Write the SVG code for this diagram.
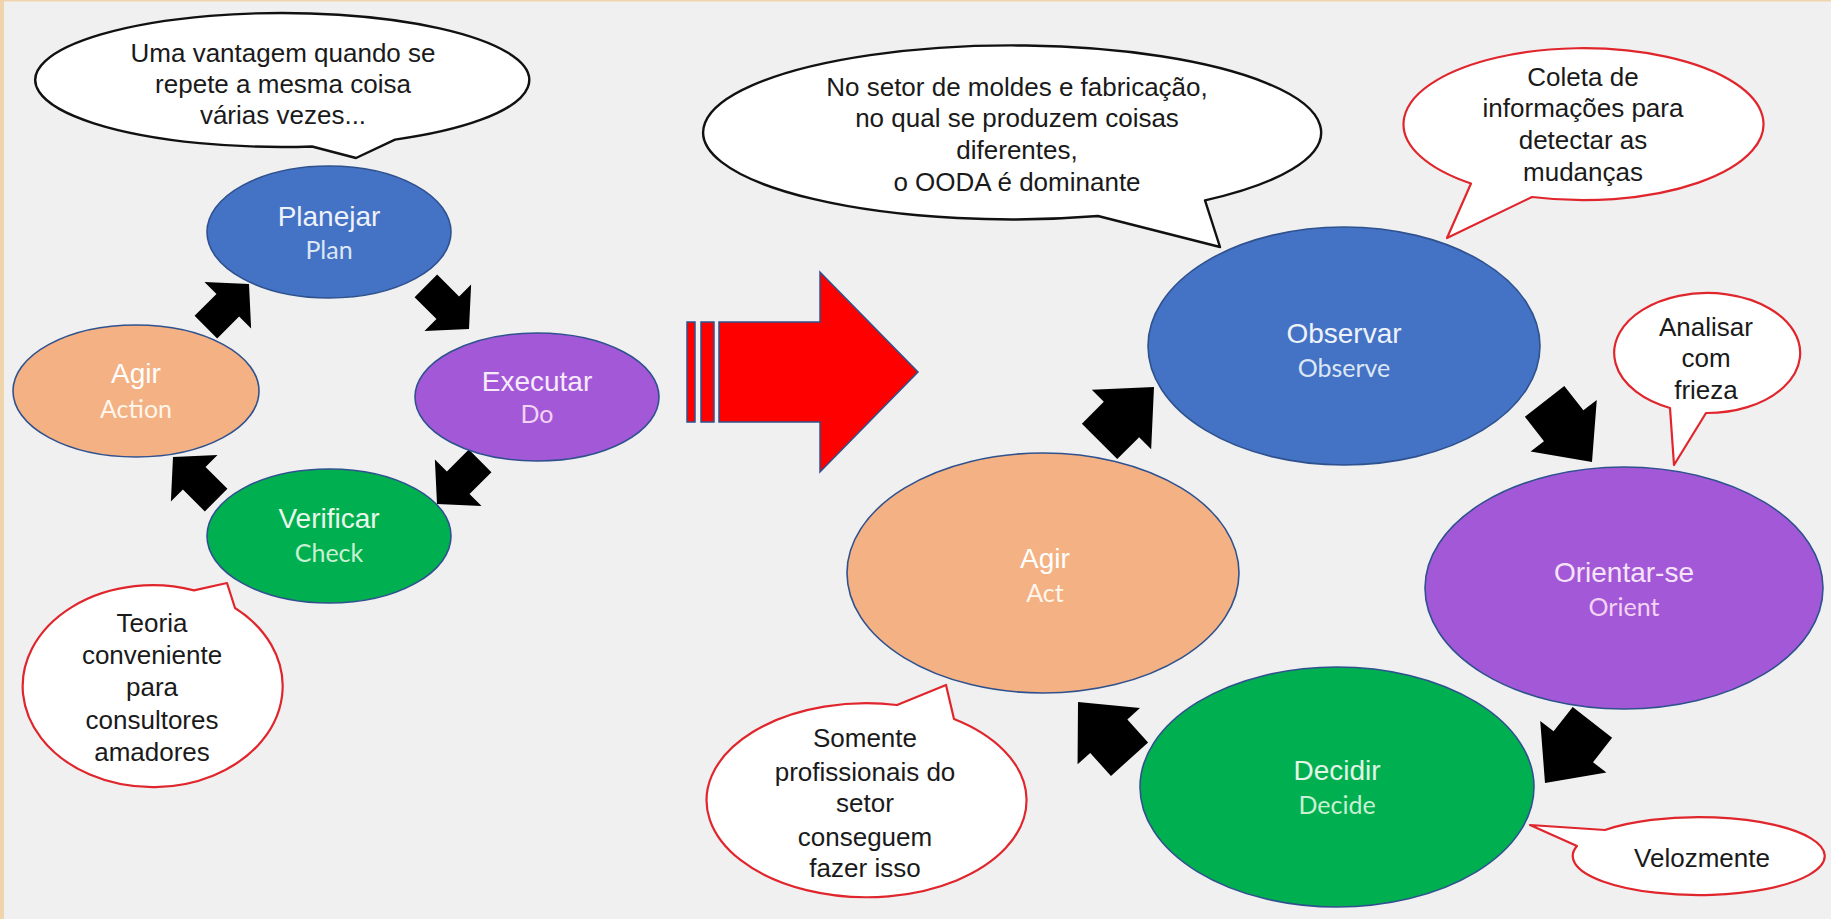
<svg xmlns="http://www.w3.org/2000/svg" width="1831" height="919" viewBox="0 0 1831 919">
<style>
.bg{fill:#F0F0F0}
.edge{fill:#F0D5AC}
.node{stroke:#2F528F;stroke-width:1.6}
.blue{fill:#4472C4}
.purple{fill:#A358D8}
.orange{fill:#F4B183}
.green{fill:#00B050}
.lbl{font-family:"Liberation Sans",Arial,sans-serif;font-size:28px;text-anchor:middle}
.sub{font-family:Lato,"Open Sans",sans-serif;font-size:25px;text-anchor:middle}
.cb{fill:#FFFFFF;stroke:#111111;stroke-width:2.4;stroke-linejoin:round}
.cr{fill:#FFFFFF;stroke:#E0262C;stroke-width:2.2;stroke-linejoin:round}
.ct{font-family:"Liberation Sans",Arial,sans-serif;font-size:26px;fill:#1A1A1A;text-anchor:middle}
.arr{fill:#000000}
</style>
<defs>
<path id="arrS" d="M0,0 L-30,-33 L-30,-16 L-61,-16 L-61,16 L-30,16 L-30,33 Z"/>
<path id="arrL" d="M0,0 L-46,-42 L-46,-25 L-77,-25 L-77,25 L-46,25 L-46,42 Z"/>
</defs>
<rect class="bg" x="0" y="0" width="1831" height="919"/>
<rect class="edge" x="0" y="0" width="4" height="919"/>
<rect class="edge" x="0" y="0" width="1831" height="1.5"/>

<g id="connectors">
<use href="#arrS" class="arr" transform="translate(249,284) rotate(-45)"/>
<use href="#arrS" class="arr" transform="translate(469,329) rotate(45)"/>
<use href="#arrS" class="arr" transform="translate(437,504) rotate(135)"/>
<use href="#arrS" class="arr" transform="translate(173,457) rotate(-135)"/>
<use href="#arrL" class="arr" transform="translate(1154,387) rotate(-45)"/>
<use href="#arrL" class="arr" transform="translate(1592,462) rotate(52)"/>
<use href="#arrL" class="arr" transform="translate(1545,783) rotate(128)"/>
<use href="#arrL" class="arr" transform="translate(1078,702) rotate(-132)"/>
</g>

<g id="transition-arrow">
<rect x="687" y="322" width="8" height="100" fill="#FF0000" stroke="#2F528F" stroke-width="1.5"/>
<rect x="701" y="322" width="13" height="100" fill="#FF0000" stroke="#2F528F" stroke-width="1.5"/>
<polygon points="719,322 820,322 820,272 918,372 820,472 820,422 719,422" fill="#FF0000" stroke="#2F528F" stroke-width="1.5" stroke-linejoin="miter"/>
</g>

<g id="pdca-plan">
<ellipse class="node blue" cx="329" cy="232" rx="122" ry="66"/>
<text class="lbl" x="329" y="226" fill="#EEF3FB">Planejar</text>
<text class="sub" x="329" y="259" fill="#DCE6F5">Plan</text>
</g>
<g id="pdca-do">
<ellipse class="node purple" cx="537" cy="397" rx="122" ry="64"/>
<text class="lbl" x="537" y="391" fill="#F7EAFB">Executar</text>
<text class="sub" x="537" y="423" fill="#F3D3F3">Do</text>
</g>
<g id="pdca-check">
<ellipse class="node green" cx="329" cy="536" rx="122" ry="67"/>
<text class="lbl" x="329" y="528" fill="#EAF8EC">Verificar</text>
<text class="sub" x="329" y="562" fill="#C9F0D2">Check</text>
</g>
<g id="pdca-act">
<ellipse class="node orange" cx="136" cy="391" rx="123" ry="66"/>
<text class="lbl" x="136" y="383" fill="#FFFFFF">Agir</text>
<text class="sub" x="136" y="418" fill="#FFF6EC">Action</text>
</g>

<g id="ooda-observe">
<ellipse class="node blue" cx="1344" cy="346" rx="196" ry="119"/>
<text class="lbl" x="1344" y="343" fill="#EEF3FB">Observar</text>
<text class="sub" x="1344" y="377" fill="#DCE6F5">Observe</text>
</g>
<g id="ooda-orient">
<ellipse class="node purple" cx="1624" cy="588" rx="199" ry="121"/>
<text class="lbl" x="1624" y="582" fill="#F7E4F9">Orientar-se</text>
<text class="sub" x="1624" y="616" fill="#F3D3F3">Orient</text>
</g>
<g id="ooda-decide">
<ellipse class="node green" cx="1337" cy="787" rx="197" ry="120"/>
<text class="lbl" x="1337" y="780" fill="#E2F5E6">Decidir</text>
<text class="sub" x="1337" y="814" fill="#C9F0D2">Decide</text>
</g>
<g id="ooda-act">
<ellipse class="node orange" cx="1043" cy="573" rx="196" ry="120"/>
<text class="lbl" x="1045" y="568" fill="#FFFFFF">Agir</text>
<text class="sub" x="1045" y="602" fill="#FFF6EC">Act</text>
</g>

<g id="callout-repeat">
<path class="cb" d="M312,146.5 A247,67 0 1 1 395,139.6 L356,158 Z"/>
<text class="ct" x="283" y="62">Uma vantagem quando se</text>
<text class="ct" x="283" y="93">repete a mesma coisa</text>
<text class="ct" x="283" y="124">várias vezes...</text>
</g>
<g id="callout-theory">
<path class="cr" d="M235,608 A130,101 0 1 1 194,590.4 L227,583 Z"/>
<text class="ct" x="152" y="632">Teoria</text>
<text class="ct" x="152" y="664">conveniente</text>
<text class="ct" x="152" y="696">para</text>
<text class="ct" x="152" y="729">consultores</text>
<text class="ct" x="152" y="761">amadores</text>
</g>
<g id="callout-ooda">
<path class="cb" d="M1098,216 A309,87 0 1 1 1205,200.4 L1220,247 Z"/>
<text class="ct" x="1017" y="96">No setor de moldes e fabricação,</text>
<text class="ct" x="1017" y="127">no qual se produzem coisas</text>
<text class="ct" x="1017" y="159">diferentes,</text>
<text class="ct" x="1017" y="191">o OODA é dominante</text>
</g>
<g id="callout-observe">
<path class="cr" d="M1471,183.5 A180,76 0 1 1 1532,197 L1447,238 Z"/>
<text class="ct" x="1583" y="86">Coleta de</text>
<text class="ct" x="1583" y="117">informações para</text>
<text class="ct" x="1583" y="149">detectar as</text>
<text class="ct" x="1583" y="181">mudanças</text>
</g>
<g id="callout-orient">
<path class="cr" d="M1670,408 A93,60 0 1 1 1706,413 L1674,465 Z"/>
<text class="ct" x="1706" y="336">Analisar</text>
<text class="ct" x="1706" y="367">com</text>
<text class="ct" x="1706" y="399">frieza</text>
</g>
<g id="callout-act">
<path class="cr" d="M954,719 A160,97 0 1 1 897,705 L946,685 Z"/>
<text class="ct" x="865" y="747">Somente</text>
<text class="ct" x="865" y="781">profissionais do</text>
<text class="ct" x="865" y="812">setor</text>
<text class="ct" x="865" y="846">conseguem</text>
<text class="ct" x="865" y="877">fazer isso</text>
</g>
<g id="callout-decide">
<path class="cr" d="M1605,830 A126,39 0 1 1 1577,846 L1530,825 Z"/>
<text class="ct" x="1702" y="867">Velozmente</text>
</g>
</svg>
